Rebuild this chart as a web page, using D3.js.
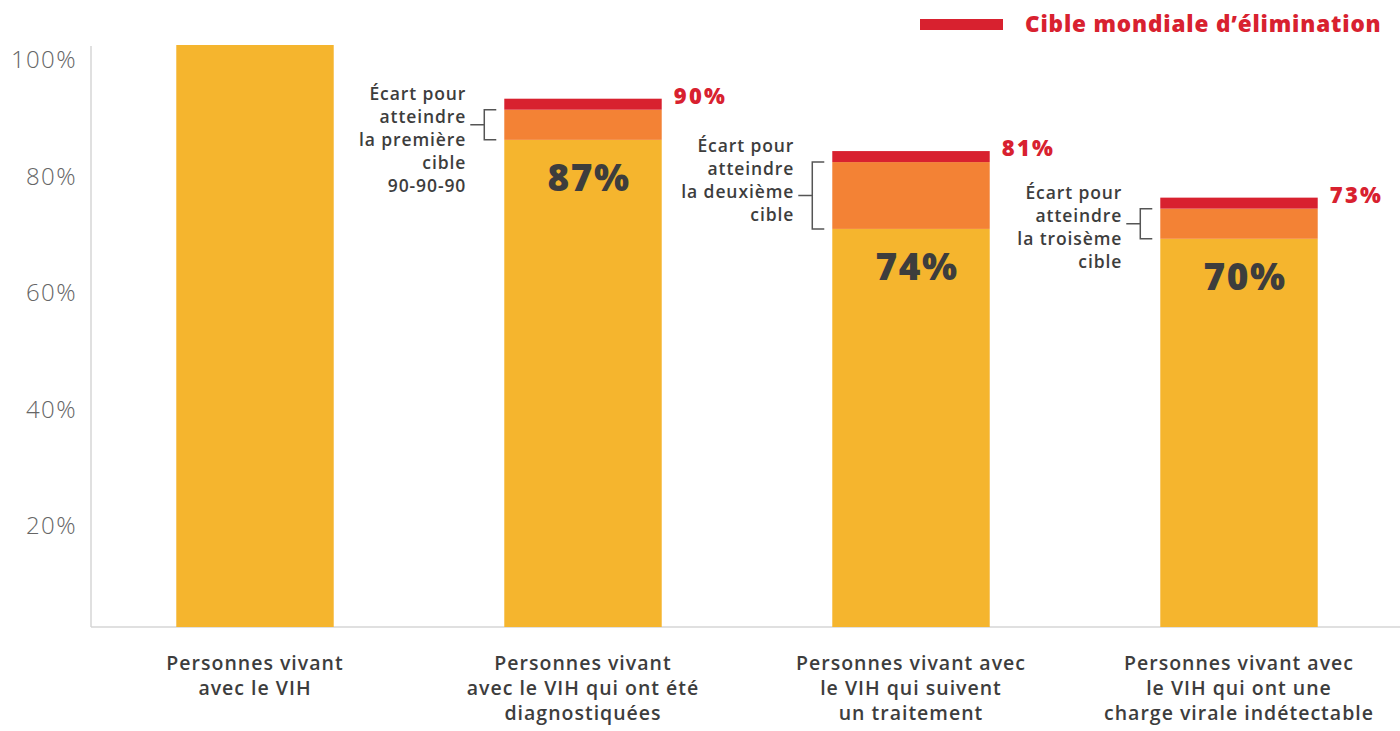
<!DOCTYPE html>
<html>
<head>
<meta charset="utf-8">
<script src="https://cdn.jsdelivr.net/npm/d3@7/dist/d3.min.js"></script>
<style>
  body { margin: 0; background: #fff; }
  svg { display: block; font-family: "Open Sans", sans-serif; }
</style>
</head>
<body>
<div id="chart"></div>
<script>
// categories (one label line per entry)
var categories = [
  ["Personnes vivant", "avec le VIH"],
  ["Personnes vivant", "avec le VIH qui ont été", "diagnostiquées"],
  ["Personnes vivant avec", "le VIH qui suivent", "un traitement"],
  ["Personnes vivant avec", "le VIH qui ont une", "charge virale indétectable"]
];
// bar heights
var achieved = [100, 83.7, 68.4, 66.7];
var achievedLabels = ["", "87%", "74%", "70%"];
// global targets
var targets = [null, 90, 81, 73];
var targetLabels = ["", "90%", "81%", "73%"];
// gap annotations
var gapNotes = [
  null,
  ["Écart pour", "atteindre", "la première", "cible", "90-90-90"],
  ["Écart pour", "atteindre", "la deuxième", "cible"],
  ["Écart pour", "atteindre", "la troisème", "cible"]
];
var yTicks = [20, 40, 60, 80, 100];
var legendLabel = "Cible mondiale d’élimination";

var colors = {yellow: "#f5b52e", orange: "#f38235", red: "#d8212f", text: "#3d3d3d", axis: "#d6d6d6"};

var width = 1400, height = 731;
var svg = d3.select("#chart").append("svg")
    .attr("width", width)
    .attr("height", height);

var x = d3.scaleBand()
    .domain(d3.range(categories.length))
    .range([91, 1403])
    .paddingInner(0.52)
    .paddingOuter(0.26);

var y = d3.scaleLinear()
    .domain([0, 100])
    .range([627, 45]);

//Axis lines
svg.append("line")
    .attr("x1", 91).attr("x2", 91)
    .attr("y1", 46).attr("y2", y(0))
    .attr("stroke", colors.axis).attr("stroke-width", 1.5);
svg.append("line")
    .attr("x1", 91).attr("x2", width)
    .attr("y1", y(0)).attr("y2", y(0))
    .attr("stroke", colors.axis).attr("stroke-width", 1.5);

//Y tick labels
var yAxis = d3.axisLeft(y)
    .tickValues(yTicks)
    .tickSize(0)
    .tickPadding(0)
    .tickFormat(function(d) { return d + "%"; });
var gy = svg.append("g")
    .attr("transform", "translate(77,0)")
    .call(yAxis);
gy.select(".domain").remove();
gy.selectAll("text")
    .attr("dy", "0.95em")
    .style("font-family", "'Open Sans', sans-serif")
    .style("font-size", "24px")
    .style("font-weight", 300)
    .style("letter-spacing", "1.4px")
    .attr("fill", "#666");

//Yellow bars
svg.selectAll(".bar")
    .data(achieved)
  .enter().append("rect")
    .attr("class", "bar")
    .attr("x", function(d, i) { return x(i); })
    .attr("y", function(d) { return y(d); })
    .attr("width", x.bandwidth())
    .attr("height", function(d) { return y(0) - y(d); })
    .attr("fill", colors.yellow);

var idx = d3.range(1, categories.length);
var redTop = function(i) { return y(targets[i]) - 4.5; };
var redBottom = function(i) { return y(targets[i]) + 6.5; };

//Orange gap
svg.selectAll(".gap")
    .data(idx)
  .enter().append("rect")
    .attr("x", function(i) { return x(i); })
    .attr("y", function(i) { return redBottom(i); })
    .attr("width", x.bandwidth())
    .attr("height", function(i) { return y(achieved[i]) - redBottom(i); })
    .attr("fill", colors.orange);

//Red target band
svg.selectAll(".target")
    .data(idx)
  .enter().append("rect")
    .attr("x", function(i) { return x(i); })
    .attr("y", function(i) { return redTop(i); })
    .attr("width", x.bandwidth())
    .attr("height", function(i) { return redBottom(i) - redTop(i); })
    .attr("fill", colors.red);

//Target labels
svg.selectAll(".tlabel")
    .data(idx)
  .enter().append("text")
    .attr("x", function(i) { return x(i) + x.bandwidth() + 12; })
    .attr("y", function(i) { return redTop(i) + 5; })
    .attr("fill", colors.red)
    .style("font-size", "22px")
    .style("font-weight", 800)
    .style("letter-spacing", "2.3px")
    .text(function(i) { return targetLabels[i]; });

//Achieved value labels
svg.selectAll(".vlabel")
    .data(idx)
  .enter().append("text")
    .attr("x", function(i) { return x(i) + x.bandwidth() / 2 + 6; })
    .attr("y", function(i) { return y(achieved[i]) + 51; })
    .attr("text-anchor", "middle")
    .attr("fill", colors.text)
    .style("font-size", "37px")
    .style("font-weight", 800)
    .style("letter-spacing", "1.5px")
    .text(function(i) { return achievedLabels[i]; });

//Gap brackets + notes
idx.forEach(function(i) {
  var left = x(i);
  var top = redBottom(i), bottom = y(achieved[i]), mid = (top + bottom) / 2;
  svg.append("path")
    .attr("d", "M" + (left - 8) + "," + top + "H" + (left - 20) + "V" + bottom + "H" + (left - 8) +
               "M" + (left - 20) + "," + mid + "H" + (left - 34))
    .attr("fill", "none")
    .attr("stroke", "#555")
    .attr("stroke-width", 1.5);
  var t = svg.append("text")
    .attr("x", left - 38)
    .attr("y", redTop(i) + 1)
    .attr("text-anchor", "end")
    .attr("fill", colors.text)
    .style("font-size", "17.5px")
    .style("font-weight", 600)
    .style("letter-spacing", "0.9px");
  gapNotes[i].forEach(function(line, k) {
    t.append("tspan").attr("x", left - 38).attr("dy", k === 0 ? 0 : 23).text(line);
  });
});

//Category labels
categories.forEach(function(lines, i) {
  var cx = x(i) + x.bandwidth() / 2;
  var t = svg.append("text")
    .attr("x", cx)
    .attr("y", 670)
    .attr("text-anchor", "middle")
    .attr("fill", colors.text)
    .style("font-size", "19.5px")
    .style("font-weight", 600)
    .style("letter-spacing", "1px");
  lines.forEach(function(line, k) {
    t.append("tspan").attr("x", cx).attr("dy", k === 0 ? 0 : 25).text(line);
  });
});

//Legend
svg.append("rect")
    .attr("x", 920).attr("y", 19)
    .attr("width", 83).attr("height", 11)
    .attr("fill", colors.red);
svg.append("text")
    .attr("x", 1025).attr("y", 32)
    .attr("fill", colors.red)
    .style("font-size", "22.5px")
    .style("font-weight", 800)
    .style("letter-spacing", "0.85px")
    .text(legendLabel);
</script>
</body>
</html>
